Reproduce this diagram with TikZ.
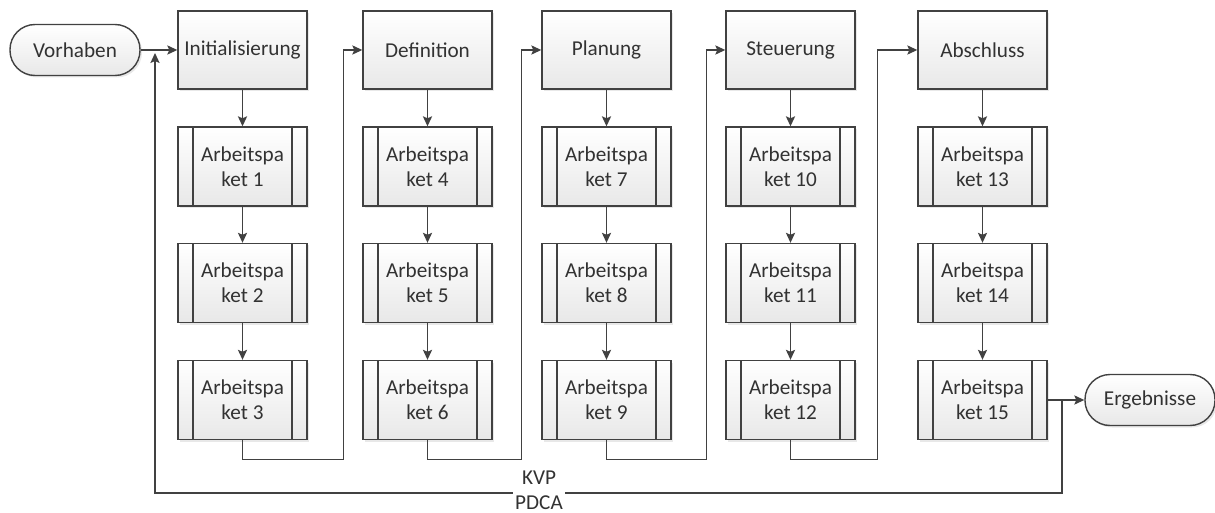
\documentclass[tikz,border=0pt]{standalone}
\usepackage{fontspec}
\setmainfont{Carlito}
\usepackage{tikz}
\usetikzlibrary{positioning}
\usetikzlibrary{arrows.meta}
\usetikzlibrary{shadows}
\tikzset{>={Stealth[length=5pt, width=4.6pt, inset=1pt]}}
\definecolor{linegray}{RGB}{65,65,65}
\definecolor{textgray}{RGB}{50,50,50}

\begin{document}
\begin{tikzpicture}[x=0.5pt, y=-0.5pt, line width=0.7pt, draw=linegray,
  font=\fontsize{10.6}{12.5}\selectfont, text=textgray,
  phase/.style={draw=linegray, top color=white, bottom color=black!9,
    minimum width=64.5pt, minimum height=39pt, inner sep=0pt, align=center,
    drop shadow={opacity=0.18, shadow xshift=1pt, shadow yshift=-1pt}},
  paket/.style={phase, minimum height=39.5pt,
    path picture={
      \draw[linegray] ([xshift=7.5pt]path picture bounding box.north west) -- ([xshift=7.5pt]path picture bounding box.south west);
      \draw[linegray] ([xshift=-7.5pt]path picture bounding box.north east) -- ([xshift=-7.5pt]path picture bounding box.south east);}},
  term/.style={phase, rounded corners=12.5pt, minimum width=65pt, minimum height=25.5pt}]
\useasboundingbox (0,0) rectangle (1215,513);
% start and end
\node[term] (vorhaben) at (75, 50) {Vorhaben};
\node[term] (ergebnisse) at (1150, 400) {Ergebnisse};
% phases
\node[phase] (init) at (242.5, 50) {Initialisierung};
\node[phase] (def) at (427.5, 50) {Definition};
\node[phase] (plan) at (606.5, 50) {Planung};
\node[phase] (steu) at (790.5, 50) {Steuerung};
\node[phase] (absch) at (982.5, 50) {Abschluss};
% work packages
\node[paket] (ap1) at (242.5, 166.5) {Arbeitspa\\ket 1};
\node[paket] (ap2) at (242.5, 283) {Arbeitspa\\ket 2};
\node[paket] (ap3) at (242.5, 400) {Arbeitspa\\ket 3};
\node[paket] (ap4) at (427.5, 166.5) {Arbeitspa\\ket 4};
\node[paket] (ap5) at (427.5, 283) {Arbeitspa\\ket 5};
\node[paket] (ap6) at (427.5, 400) {Arbeitspa\\ket 6};
\node[paket] (ap7) at (606.5, 166.5) {Arbeitspa\\ket 7};
\node[paket] (ap8) at (606.5, 283) {Arbeitspa\\ket 8};
\node[paket] (ap9) at (606.5, 400) {Arbeitspa\\ket 9};
\node[paket] (ap10) at (790.5, 166.5) {Arbeitspa\\ket 10};
\node[paket] (ap11) at (790.5, 283) {Arbeitspa\\ket 11};
\node[paket] (ap12) at (790.5, 400) {Arbeitspa\\ket 12};
\node[paket] (ap13) at (982.5, 166.5) {Arbeitspa\\ket 13};
\node[paket] (ap14) at (982.5, 283) {Arbeitspa\\ket 14};
\node[paket] (ap15) at (982.5, 400) {Arbeitspa\\ket 15};
% flow down the columns
\draw[->] (init) -- (ap1);
\draw[->] (ap1) -- (ap2);
\draw[->] (ap2) -- (ap3);
\draw[->] (def) -- (ap4);
\draw[->] (ap4) -- (ap5);
\draw[->] (ap5) -- (ap6);
\draw[->] (plan) -- (ap7);
\draw[->] (ap7) -- (ap8);
\draw[->] (ap8) -- (ap9);
\draw[->] (steu) -- (ap10);
\draw[->] (ap10) -- (ap11);
\draw[->] (ap11) -- (ap12);
\draw[->] (absch) -- (ap13);
\draw[->] (ap13) -- (ap14);
\draw[->] (ap14) -- (ap15);
% from one column to the next
\draw[->] (ap3.south) -- ++(0, 19) -| ([xshift=-9.5pt]def.west) -- (def.west);
\draw[->] (ap6.south) -- ++(0, 19) -| ([xshift=-10pt]plan.west) -- (plan.west);
\draw[->] (ap9.south) -- ++(0, 19) -| ([xshift=-9.5pt]steu.west) -- (steu.west);
\draw[->] (ap12.south) -- ++(0, 19) -| ([xshift=-20pt]absch.west) -- (absch.west);
% in, out and the feedback loop
\coordinate (jright) at (1062, 400);
\coordinate (jleft) at (155, 53);
\draw[->] (vorhaben) -- (init);
\draw[->] (ap15) -- (ergebnisse);
\draw[->] (jright) |- (155, 493) -- (jleft);
\node[fill=white, inner sep=1pt, align=center] (kvp) at (539, 490.5) {KVP\\PDCA};
\end{tikzpicture}
\end{document}
